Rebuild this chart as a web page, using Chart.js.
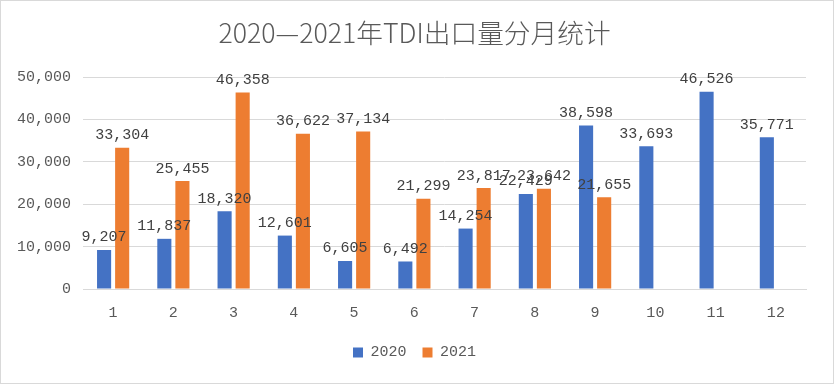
<!DOCTYPE html>
<html>
<head>
<meta charset="utf-8">
<script src="https://cdn.jsdelivr.net/npm/chart.js@4"></script>
<style>
  html, body { margin: 0; padding: 0; background: #fff; }
  #wrap { width: 834px; height: 384px; box-sizing: border-box; border: 1px solid #d9d9d9; }
</style>
</head>
<body>
<div id="wrap"><canvas id="chart" width="832" height="382"></canvas></div>
<script>
const months = ["1", "2", "3", "4", "5", "6", "7", "8", "9", "10", "11", "12"];
const export2020 = [9207, 11837, 18320, 12601, 6605, 6492, 14254, 22429, 38598, 33693, 46526, 35771];
const export2021 = [33304, 25455, 46358, 36622, 37134, 21299, 23817, 23642, 21655, null, null, null];
const yTicks = [0, 10000, 20000, 30000, 40000, 50000];

const gray = "#595959";
const monoFont = "'Liberation Mono', 'DejaVu Sans Mono', monospace";

function fmt(v) {
  return Number(v).toLocaleString("en-US");
}

// draw the value above each bar
const barLabels = {
  id: "barLabels",
  afterDatasetsDraw(chart) {
    const ctx = chart.ctx;
    ctx.save();
    ctx.font = "15px " + monoFont;
    ctx.fillStyle = "#404040";
    ctx.textAlign = "center";
    ctx.textBaseline = "bottom";
    chart.data.datasets.forEach((ds, i) => {
      const meta = chart.getDatasetMeta(i);
      meta.data.forEach((bar, j) => {
        const v = ds.data[j];
        if (v == null) return;
        ctx.fillText(fmt(v), bar.x, bar.y - 5);
      });
    });
    ctx.restore();
  },
};

new Chart(document.getElementById("chart"), {
  type: "bar",
  data: {
    labels: months,
    datasets: [
      {
        label: "2020",
        data: export2020,
        backgroundColor: "#4472C4",
        categoryPercentage: 0.6,
        barPercentage: 0.78,
      },
      {
        label: "2021",
        data: export2021,
        backgroundColor: "#ED7D31",
        categoryPercentage: 0.6,
        barPercentage: 0.78,
      },
    ],
  },
  options: {
    responsive: false,
    animation: false,
    layout: { padding: { left: 10, right: 15, top: 0, bottom: 13 } },
    plugins: {
      title: {
        display: true,
        text: "2020—2021年TDI出口量分月统计",
        color: gray,
        font: { family: "'Noto Sans CJK SC', 'Noto Sans', sans-serif", size: 26.7, weight: 300 },
        padding: { top: 16, bottom: 28 },
      },
      legend: {
        position: "bottom",
        labels: {
          color: gray,
          boxWidth: 10,
          boxHeight: 10,
          padding: 16,
          font: { family: monoFont, size: 15 },
        },
      },
      tooltip: { enabled: false },
    },
    scales: {
      x: {
        grid: { display: false },
        border: { color: "#d9d9d9" },
        ticks: { color: gray, font: { family: monoFont, size: 15 }, padding: 7 },
      },
      y: {
        min: 0,
        max: 50000,
        afterBuildTicks: (axis) => {
          axis.ticks = yTicks.map((v) => ({ value: v }));
        },
        afterFit: (axis) => {
          axis.width = 72;
        },
        grid: { color: "#d9d9d9", drawTicks: false },
        border: { display: false },
        ticks: {
          color: gray,
          font: { family: monoFont, size: 15 },
          padding: 12,
          callback: (v) => fmt(v),
        },
      },
      // empty spacer on the right so title and legend sit centred like the original
      yRight: {
        position: "right",
        min: 0,
        max: 1,
        grid: { display: false },
        border: { display: false },
        ticks: { display: false },
        afterFit: (axis) => {
          axis.width = 12;
        },
      },
    },
  },
  plugins: [barLabels],
});
</script>
</body>
</html>
